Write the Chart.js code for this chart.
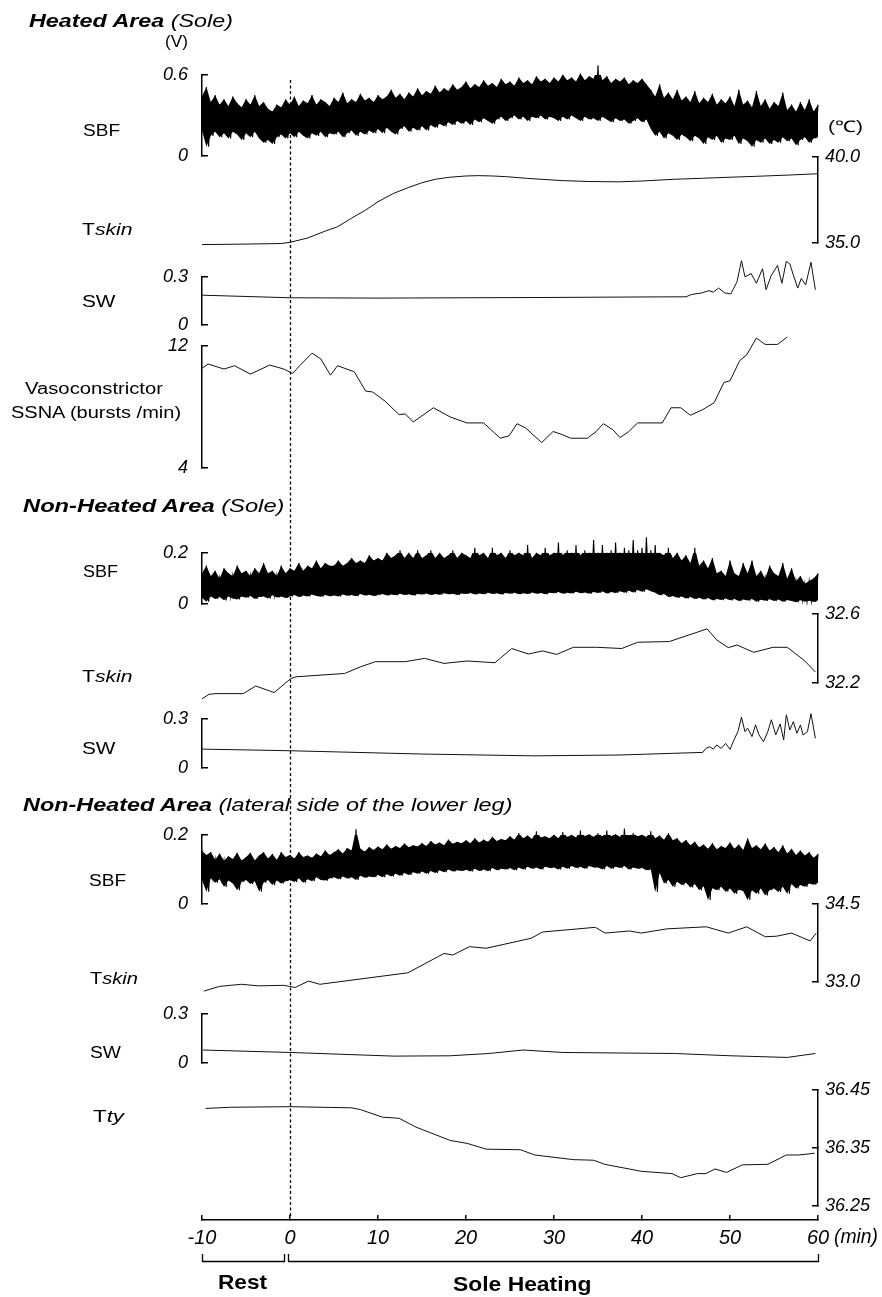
<!DOCTYPE html>
<html>
<head>
<meta charset="utf-8">
<script src="https://cdn.jsdelivr.net/npm/chart.js@4.4.1/dist/chart.umd.min.js"></script>
<style>
html,body{margin:0;padding:0;background:#fff;}
#page{position:relative;width:882px;height:1297px;overflow:hidden;font-family:"Liberation Sans",Arial,sans-serif;color:#000;background:#fff;}
#page canvas{position:absolute;left:0;}
.lbl{position:absolute;white-space:nowrap;line-height:1;transform-origin:0 50%;}
</style>
</head>
<body>
<div id="page"></div>
<script>
// ---------------- DATA ----------------
// time axis (min)
const xTickLabels = ['-10','0','10','20','30','40','50','60'];
const heatStart = 0;
// SBF traces sampled every 0.5 min from -10 to 60 (141 samples): upper / lower envelope
const sbfTimes = Array.from({length: 141}, (_, i) => -10 + i * 0.5);

const sbfHeatedUpper = [
0.44,0.51,0.40,0.45,0.38,0.42,0.37,0.44,0.39,0.36,
0.42,0.38,0.45,0.37,0.40,0.35,0.33,0.38,0.36,0.42,
0.38,0.44,0.37,0.41,0.39,0.45,0.38,0.42,0.40,0.37,
0.43,0.40,0.47,0.39,0.42,0.40,0.46,0.41,0.43,0.40,
0.45,0.42,0.44,0.49,0.43,0.46,0.42,0.47,0.44,0.50,
0.45,0.48,0.46,0.52,0.47,0.50,0.48,0.53,0.49,0.51,
0.55,0.50,0.53,0.51,0.56,0.52,0.54,0.51,0.57,0.53,
0.55,0.52,0.58,0.54,0.56,0.53,0.59,0.55,0.57,0.54,
0.58,0.55,0.60,0.56,0.58,0.55,0.61,0.56,0.59,0.57,
0.67,0.56,0.59,0.54,0.57,0.55,0.58,0.53,0.56,0.54,
0.57,0.53,0.49,0.44,0.53,0.43,0.47,0.42,0.49,0.41,
0.44,0.40,0.48,0.39,0.43,0.40,0.46,0.38,0.42,0.39,
0.44,0.37,0.49,0.38,0.41,0.36,0.48,0.37,0.42,0.35,
0.40,0.37,0.47,0.34,0.38,0.33,0.40,0.34,0.42,0.33,
0.38];
const sbfHeatedLower = [
0.19,0.07,0.15,0.18,0.14,0.17,0.13,0.18,0.16,0.12,
0.17,0.14,0.18,0.13,0.10,0.12,0.09,0.14,0.16,0.13,
0.17,0.14,0.18,0.15,0.13,0.17,0.15,0.18,0.14,0.17,
0.16,0.18,0.14,0.17,0.19,0.15,0.18,0.16,0.19,0.17,
0.20,0.17,0.21,0.18,0.16,0.20,0.22,0.18,0.21,0.19,
0.22,0.19,0.23,0.21,0.24,0.22,0.25,0.23,0.26,0.24,
0.26,0.23,0.27,0.25,0.28,0.26,0.24,0.27,0.29,0.26,
0.28,0.30,0.27,0.29,0.26,0.29,0.28,0.30,0.27,0.29,
0.28,0.26,0.29,0.27,0.30,0.28,0.26,0.29,0.27,0.28,
0.26,0.29,0.27,0.25,0.28,0.26,0.27,0.24,0.26,0.28,
0.25,0.27,0.20,0.15,0.18,0.13,0.17,0.15,0.12,0.16,
0.14,0.11,0.15,0.13,0.09,0.14,0.12,0.15,0.10,0.13,
0.12,0.15,0.09,0.13,0.11,0.07,0.12,0.10,0.13,0.09,
0.12,0.10,0.14,0.11,0.13,0.08,0.12,0.14,0.10,0.13,
0.14];

const sbfSoleUpper = [
0.12,0.15,0.11,0.13,0.10,0.14,0.12,0.11,0.15,0.12,
0.13,0.11,0.14,0.12,0.16,0.12,0.13,0.11,0.15,0.12,
0.14,0.13,0.16,0.13,0.15,0.14,0.17,0.14,0.16,0.15,
0.15,0.17,0.15,0.16,0.18,0.16,0.17,0.16,0.19,0.17,
0.18,0.17,0.20,0.18,0.19,0.21,0.18,0.20,0.18,0.21,
0.18,0.19,0.21,0.18,0.20,0.18,0.19,0.21,0.18,0.20,
0.19,0.18,0.22,0.19,0.20,0.18,0.22,0.19,0.20,0.18,
0.21,0.19,0.20,0.19,0.23,0.18,0.20,0.19,0.22,0.19,
0.20,0.24,0.19,0.21,0.20,0.23,0.19,0.21,0.20,0.25,
0.20,0.23,0.20,0.21,0.24,0.20,0.22,0.21,0.25,0.21,
0.22,0.26,0.21,0.23,0.20,0.19,0.22,0.18,0.20,0.17,
0.19,0.16,0.22,0.15,0.17,0.14,0.18,0.12,0.13,0.11,
0.17,0.12,0.11,0.16,0.12,0.17,0.11,0.13,0.10,0.15,
0.12,0.11,0.16,0.10,0.14,0.09,0.11,0.08,0.09,0.10,
0.12];
const sbfSoleLower = [
0.025,0.010,0.030,0.020,0.028,0.015,0.030,0.022,0.018,0.030,
0.025,0.032,0.020,0.028,0.030,0.022,0.035,0.026,0.030,0.024,
0.030,0.036,0.028,0.034,0.030,0.038,0.032,0.029,0.036,0.031,
0.034,0.030,0.038,0.033,0.036,0.031,0.040,0.034,0.037,0.032,
0.036,0.040,0.034,0.038,0.035,0.041,0.036,0.039,0.034,0.040,
0.038,0.042,0.036,0.040,0.037,0.043,0.039,0.041,0.036,0.042,
0.040,0.044,0.038,0.042,0.039,0.045,0.040,0.043,0.038,0.044,
0.041,0.045,0.039,0.043,0.040,0.046,0.041,0.044,0.039,0.045,
0.043,0.047,0.041,0.045,0.042,0.048,0.043,0.046,0.041,0.047,
0.044,0.049,0.042,0.047,0.044,0.050,0.045,0.052,0.046,0.055,
0.048,0.058,0.050,0.045,0.035,0.040,0.028,0.032,0.025,0.030,
0.022,0.028,0.020,0.025,0.018,0.024,0.015,0.020,0.016,0.022,
0.015,0.020,0.012,0.018,0.014,0.020,0.010,0.017,0.013,0.019,
0.012,0.018,0.010,0.016,0.012,0.008,0.015,0.010,0.013,0.009,
0.015];

const sbfLegUpper = [
0.154,0.142,0.150,0.128,0.146,0.125,0.138,0.130,0.148,0.126,
0.135,0.148,0.127,0.140,0.150,0.132,0.145,0.128,0.150,0.136,
0.142,0.132,0.150,0.136,0.140,0.134,0.146,0.138,0.155,0.142,
0.150,0.158,0.146,0.162,0.155,0.216,0.160,0.152,0.165,0.156,
0.166,0.158,0.172,0.160,0.168,0.162,0.175,0.164,0.170,0.166,
0.176,0.168,0.182,0.172,0.178,0.170,0.186,0.174,0.180,0.176,
0.184,0.176,0.190,0.178,0.186,0.180,0.194,0.182,0.188,0.184,
0.196,0.186,0.205,0.190,0.198,0.188,0.210,0.192,0.196,0.190,
0.200,0.190,0.208,0.194,0.200,0.192,0.212,0.196,0.202,0.194,
0.205,0.195,0.212,0.196,0.202,0.194,0.218,0.198,0.205,0.196,
0.200,0.194,0.210,0.190,0.198,0.186,0.205,0.184,0.190,0.176,
0.185,0.170,0.180,0.164,0.172,0.160,0.176,0.158,0.168,0.162,
0.178,0.160,0.172,0.156,0.190,0.162,0.170,0.158,0.175,0.155,
0.165,0.150,0.170,0.146,0.160,0.142,0.155,0.140,0.150,0.134,
0.145];
const sbfLegLower = [
0.070,0.036,0.075,0.062,0.072,0.050,0.068,0.060,0.040,0.064,
0.070,0.058,0.066,0.036,0.062,0.070,0.055,0.068,0.060,0.066,
0.070,0.064,0.075,0.062,0.072,0.066,0.078,0.070,0.068,0.074,
0.078,0.072,0.080,0.074,0.078,0.070,0.082,0.076,0.080,0.078,
0.084,0.078,0.086,0.080,0.088,0.082,0.090,0.084,0.092,0.088,
0.094,0.088,0.096,0.090,0.098,0.092,0.100,0.094,0.098,0.096,
0.099,0.094,0.102,0.096,0.100,0.095,0.104,0.098,0.102,0.100,
0.104,0.098,0.106,0.100,0.108,0.102,0.106,0.100,0.108,0.104,
0.106,0.100,0.108,0.102,0.110,0.104,0.108,0.102,0.110,0.106,
0.106,0.100,0.110,0.102,0.108,0.104,0.110,0.100,0.106,0.102,
0.104,0.098,0.100,0.035,0.090,0.060,0.070,0.050,0.065,0.055,
0.062,0.048,0.058,0.040,0.052,0.012,0.046,0.040,0.050,0.036,
0.045,0.030,0.042,0.038,0.012,0.040,0.030,0.045,0.025,0.040,
0.045,0.035,0.050,0.030,0.058,0.045,0.055,0.050,0.060,0.056,
0.062];

// Heated area (sole)
const tskinHeatedT = [-10,-5,-1,0,2,4,5.4,7,8.6,10,11.8,13.5,15,16.5,18.2,20,21.4,23,24.6,27,31,34,37.4,40,43.7,47,50.1,53,56.5,60];
const tskinHeatedV = [34.92,34.95,34.98,35.05,35.3,35.7,35.95,36.45,36.92,37.4,37.89,38.23,38.5,38.7,38.82,38.89,38.91,38.89,38.85,38.75,38.62,38.57,38.55,38.6,38.7,38.76,38.82,38.87,38.94,39.02];

const swHeatedT = [-10,-5,0,10,20,30,40,45,45.6,46.8,47.6,48.1,48.7,49.4,50.1,50.8,51.3,51.7,52.4,53.0,53.7,54.1,54.7,55.4,55.9,56.4,56.8,57.2,57.7,58.1,58.6,59.2,59.7];
const swHeatedV = [0.186,0.178,0.170,0.168,0.170,0.172,0.175,0.176,0.19,0.20,0.214,0.205,0.23,0.20,0.194,0.27,0.40,0.30,0.32,0.26,0.35,0.22,0.31,0.37,0.26,0.396,0.38,0.31,0.23,0.29,0.25,0.39,0.22];

const ssnaT = [-10,-9.3,-7.5,-6.3,-4.5,-2.3,-0.7,0.3,1.1,2.5,3.5,4.6,5.4,7.3,8.6,9.4,10.8,12.4,13.1,14.0,16.3,18.2,20.1,22.0,23.9,24.9,25.8,26.8,28.6,29.9,31.0,31.9,33.8,34.8,35.6,36.7,37.5,38.5,39.5,42.3,43.3,44.4,45.5,46.9,48.2,49.3,50.0,51.1,51.9,53.0,54.0,55.4,56.5];
const ssnaV = [10.53,10.81,10.48,10.70,10.15,10.74,10.48,10.19,10.70,11.52,11.14,10.08,10.70,10.30,9.04,8.98,8.38,7.50,7.55,7.02,7.95,7.35,6.96,6.96,5.96,6.12,6.91,6.62,5.67,6.40,6.18,5.96,5.96,6.40,6.91,6.51,6.00,6.40,6.96,6.96,7.95,7.95,7.46,7.83,8.28,9.60,9.71,11.03,11.41,12.51,12.09,12.09,12.57];

// Non-heated area (sole)
const tskinSoleT = [-10,-9.2,-8.4,-5.3,-3.9,-1.8,0.1,0.7,6.2,8.0,9.7,13.1,15.3,17.5,20.1,23.3,25.2,27.1,28.7,30.3,32.2,34.8,37.7,39.5,43.1,47.4,48.5,49.8,50.8,52.7,54.9,56.5,58.4,59.7];
const tskinSoleV = [32.11,32.136,32.14,32.14,32.184,32.146,32.227,32.237,32.256,32.294,32.324,32.324,32.343,32.314,32.328,32.318,32.40,32.368,32.386,32.366,32.407,32.407,32.40,32.436,32.44,32.513,32.449,32.405,32.42,32.378,32.407,32.407,32.333,32.265];

const swSoleT = [-10,0,15,27.7,37.4,46.9,47.25,47.7,48.1,48.5,49.0,49.5,50.0,50.45,50.9,51.3,51.7,52.0,52.5,52.9,53.3,53.8,54.3,54.7,55.2,55.7,56.1,56.4,56.8,57.2,57.6,58.0,58.3,58.8,59.2,59.7];
const swSoleV = [0.116,0.106,0.086,0.075,0.08,0.096,0.12,0.13,0.116,0.141,0.12,0.151,0.114,0.171,0.222,0.31,0.222,0.243,0.192,0.263,0.202,0.161,0.222,0.294,0.202,0.269,0.171,0.324,0.232,0.283,0.212,0.263,0.202,0.222,0.331,0.182];

// Non-heated area (lateral side of the lower leg)
const tskinLegT = [-9.8,-8.0,-5.5,-3.6,-0.7,0.6,2.1,3.4,13.4,17.5,18.5,20.4,22.3,27.4,28.7,34.7,35.8,38.6,39.9,42.8,47.3,49.8,51.9,54.0,55.3,57.0,59.1,59.8];
const tskinLegV = [32.83,32.92,32.96,32.93,32.94,32.90,33.02,32.96,33.18,33.55,33.52,33.68,33.65,33.84,33.96,34.05,33.94,33.98,33.94,34.02,34.06,33.94,34.06,33.87,33.88,33.94,33.79,33.94];

const swLegT = [-9.9,0.1,11.8,18.2,22.6,26.5,31,43.7,50.1,56.5,59.7];
const swLegV = [0.080,0.065,0.043,0.045,0.059,0.080,0.065,0.059,0.045,0.035,0.059];

const ttyT = [-9.6,-6.75,0.1,7.0,8.0,10.5,12.4,14.3,18.2,20.1,22.3,26.2,27.8,32.2,34.5,35.75,39.9,43.4,44.4,46.3,47.25,48.3,49.6,51.4,54.3,56.4,57.8,59.6];
const ttyV = [36.418,36.420,36.421,36.419,36.416,36.403,36.401,36.386,36.363,36.358,36.348,36.347,36.338,36.330,36.329,36.322,36.310,36.306,36.299,36.306,36.306,36.314,36.308,36.321,36.322,36.338,36.338,36.341];

// axis tick labels
const ticksSBFHeated = ['0','0.6'];
const ticksTskinHeated = ['35.0','40.0'];
const ticksSW = ['0','0.3'];
const ticksSSNA = ['4','12'];
const ticksSBFSole = ['0','0.2'];
const ticksTskinSole = ['32.2','32.6'];
const ticksTskinLeg = ['33.0','34.5'];
const ticksTty = ['36.25','36.35','36.45'];

// ---------------- RENDERING ----------------
const FONT = '"Liberation Sans", Arial, sans-serif';
const W = 882, H = 1297, PLOT_LEFT = 202, RIGHT_GAP = 64;
const page = document.getElementById('page');

function pts(t, v) { return t.map((x, i) => ({x: x, y: v[i]})); }
function lineDs(t, v) {
  return {data: pts(t, v), borderColor: '#111', borderWidth: 1, pointRadius: 0, fill: false, clip: false, tension: 0};
}
// noisy flow trace: solid core between the envelopes + a zig-zag trace that alternates upper/lower samples
function bandDs(upper, lower) {
  const zig = [];
  sbfTimes.forEach((t, i) => { zig.push({x: t, y: upper[i]}); zig.push({x: t + 0.25, y: lower[i]}); });
  return [
    {data: pts(sbfTimes, upper), borderWidth: 0, borderColor: 'rgba(0,0,0,0)', backgroundColor: '#000', pointRadius: 0, fill: '+1', clip: false, tension: 0},
    {data: pts(sbfTimes, lower), borderWidth: 0, borderColor: 'rgba(0,0,0,0)', pointRadius: 0, fill: false, clip: false, tension: 0},
    {data: zig, borderColor: '#000', borderWidth: 1.1, pointRadius: 0, fill: false, clip: false, tension: 0}
  ];
}

function panelConfig(cfg) {
  const left = cfg.side === 'left';
  return {
    type: 'line',
    data: {datasets: cfg.datasets},
    options: {
      responsive: false, maintainAspectRatio: false, animation: false, devicePixelRatio: 1, events: [],
      layout: {padding: {top: 0, bottom: 0, left: left ? 0 : PLOT_LEFT, right: left ? RIGHT_GAP : 0}},
      plugins: {legend: {display: false}, tooltip: {enabled: false}},
      scales: {
        x: {type: 'linear', min: parseFloat(xTickLabels[0]), max: parseFloat(xTickLabels[xTickLabels.length - 1]), display: false},
        y: {
          type: 'linear', position: cfg.side,
          min: parseFloat(cfg.ticks[0]), max: parseFloat(cfg.ticks[cfg.ticks.length - 1]),
          afterFit: s => { s.width = left ? PLOT_LEFT : RIGHT_GAP; },
          afterBuildTicks: s => { s.ticks = cfg.ticks.map(l => ({value: parseFloat(l)})); },
          ticks: {
            callback: (v, i) => cfg.ticks[i],
            font: {family: FONT, size: 18, style: 'italic'}, color: '#000',
            padding: left ? 20 : 13, autoSkip: false, maxRotation: 0
          },
          grid: {drawOnChartArea: false, drawTicks: true, tickLength: -6, color: '#000', lineWidth: 1.5},
          border: {display: true, color: '#000', width: 1.5}
        }
      }
    }
  };
}

function makePanel(cfg) {
  const c = document.createElement('canvas');
  const probeH = cfg.bottom - cfg.top + 80;
  c.width = W; c.height = probeH;
  c.style.width = W + 'px'; c.style.height = probeH + 'px';
  page.appendChild(c);
  // probe once to learn how much room the tick labels take above / below the plot area
  const probe = new Chart(c, panelConfig(cfg));
  const insetTop = probe.chartArea.top;
  const insetBottom = probeH - probe.chartArea.bottom;
  probe.destroy();
  const h = Math.round(cfg.bottom - cfg.top + insetTop + insetBottom);
  c.width = W; c.height = h;
  c.style.width = W + 'px'; c.style.height = h + 'px';
  c.style.top = (cfg.top - insetTop) + 'px';
  new Chart(c, panelConfig(cfg));
}

// frame chart: time axis, heating onset line, rest / heating brackets
const framePlugin = {
  id: 'frame',
  afterDraw(chart) {
    const ctx = chart.ctx, xs = chart.scales.x, ca = chart.chartArea;
    const x0 = Math.round(xs.getPixelForValue(heatStart)) + 0.5;
    ctx.save();
    ctx.strokeStyle = '#000';
    ctx.lineWidth = 1.3;
    ctx.setLineDash([3, 2.5]);
    ctx.beginPath(); ctx.moveTo(x0, ca.top); ctx.lineTo(x0, ca.bottom - 4); ctx.stroke();
    ctx.setLineDash([]);
    ctx.lineWidth = 1.3;
    const yTop = 1254, yLine = 1261.5;
    [[-10, -0.7], [-0.25, 60]].forEach(([a, b]) => {
      const xa = Math.round(xs.getPixelForValue(a)) + 0.5, xb = Math.round(xs.getPixelForValue(b)) + 0.5;
      ctx.beginPath(); ctx.moveTo(xa, yTop); ctx.lineTo(xa, yLine); ctx.lineTo(xb, yLine); ctx.lineTo(xb, yTop); ctx.stroke();
    });
    ctx.restore();
  }
};
(function makeFrame() {
  const c = document.createElement('canvas');
  c.width = W; c.height = H; c.style.width = W + 'px'; c.style.height = H + 'px'; c.style.top = '0px';
  page.appendChild(c);
  new Chart(c, {
    type: 'line',
    data: {datasets: []},
    options: {
      responsive: false, maintainAspectRatio: false, animation: false, devicePixelRatio: 1, events: [],
      layout: {padding: {top: 80, left: PLOT_LEFT, right: RIGHT_GAP, bottom: 0}},
      plugins: {legend: {display: false}, tooltip: {enabled: false}},
      scales: {
        x: {
          type: 'linear', position: 'bottom',
          min: parseFloat(xTickLabels[0]), max: parseFloat(xTickLabels[xTickLabels.length - 1]),
          afterFit: s => { s.height = 77; },
          afterBuildTicks: s => { s.ticks = xTickLabels.map(l => ({value: parseFloat(l)})); },
          ticks: {callback: (v, i) => xTickLabels[i], font: {family: FONT, size: 20, style: 'italic'}, color: '#000', padding: 11, autoSkip: false, maxRotation: 0},
          grid: {drawOnChartArea: false, drawTicks: true, tickLength: -5, color: '#000', lineWidth: 1.5},
          border: {display: true, color: '#000', width: 1.5}
        },
        y: {display: false, min: 0, max: 1}
      }
    },
    plugins: [framePlugin]
  });
})();

// panels
makePanel({side: 'left', top: 75, bottom: 156, ticks: ticksSBFHeated, datasets: bandDs(sbfHeatedUpper, sbfHeatedLower)});
makePanel({side: 'right', top: 157, bottom: 243, ticks: ticksTskinHeated, datasets: [lineDs(tskinHeatedT, tskinHeatedV)]});
makePanel({side: 'left', top: 277, bottom: 325, ticks: ticksSW, datasets: [lineDs(swHeatedT, swHeatedV)]});
makePanel({side: 'left', top: 346, bottom: 468, ticks: ticksSSNA, datasets: [lineDs(ssnaT, ssnaV)]});
makePanel({side: 'left', top: 553, bottom: 604, ticks: ticksSBFSole, datasets: bandDs(sbfSoleUpper, sbfSoleLower)});
makePanel({side: 'right', top: 614, bottom: 683, ticks: ticksTskinSole, datasets: [lineDs(tskinSoleT, tskinSoleV)]});
makePanel({side: 'left', top: 719, bottom: 768, ticks: ticksSW, datasets: [lineDs(swSoleT, swSoleV)]});
makePanel({side: 'left', top: 835, bottom: 904, ticks: ticksSBFSole, datasets: bandDs(sbfLegUpper, sbfLegLower)});
makePanel({side: 'right', top: 904, bottom: 982, ticks: ticksTskinLeg, datasets: [lineDs(tskinLegT, tskinLegV)]});
makePanel({side: 'left', top: 1014, bottom: 1063, ticks: ticksSW, datasets: [lineDs(swLegT, swLegV)]});
makePanel({side: 'right', top: 1090, bottom: 1206, ticks: ticksTty, datasets: [lineDs(ttyT, ttyV)]});

// text labels (x = left edge, cy = vertical centre of capitals, w = target width)
const LABELS = [
  {html: '<b><i>Heated Area</i></b><i> (Sole)</i>', x: 29, cy: 21, w: 204, fs: 18},
  {html: '(V)', x: 165, cy: 41.5, w: 23, fs: 16},
  {html: 'SBF', x: 83, cy: 131, w: 37, fs: 16},
  {html: '(\u2103)', x: 828, cy: 127, w: 35, fs: 16},
  {html: 'T<i>skin</i>', x: 81.5, cy: 230, w: 50.5, fs: 16},
  {html: 'SW', x: 81.5, cy: 301.7, w: 33.5, fs: 16},
  {html: 'Vasoconstrictor', x: 25, cy: 389, w: 138, fs: 16},
  {html: 'SSNA (bursts /min)', x: 11, cy: 413, w: 170, fs: 16},
  {html: '<b><i>Non-Heated Area</i></b><i> (Sole)</i>', x: 22.5, cy: 506, w: 261.5, fs: 18},
  {html: 'SBF', x: 83, cy: 572, w: 35, fs: 16},
  {html: 'T<i>skin</i>', x: 81.5, cy: 676.7, w: 50.5, fs: 16},
  {html: 'SW', x: 81.5, cy: 748.5, w: 33.5, fs: 16},
  {html: '<b><i>Non-Heated Area</i></b><i> (lateral side of the lower leg)</i>', x: 22.5, cy: 805, w: 489.5, fs: 18},
  {html: 'SBF', x: 89, cy: 881, w: 37, fs: 16},
  {html: 'T<i>skin</i>', x: 90, cy: 978.5, w: 48, fs: 16},
  {html: 'SW', x: 90, cy: 1053, w: 31, fs: 16},
  {html: 'T<i>ty</i>', x: 93, cy: 1117, w: 31, fs: 16},
  {html: '<i>(min)</i>', x: 834, cy: 1236, w: 44, fs: 20},
  {html: '<b>Rest</b>', x: 218, cy: 1281.5, w: 49, fs: 21},
  {html: '<b>Sole Heating</b>', x: 452.5, cy: 1284, w: 138.5, fs: 20}
];
LABELS.forEach(L => {
  const d = document.createElement('div');
  d.className = 'lbl';
  d.innerHTML = L.html;
  d.style.fontSize = L.fs + 'px';
  d.style.left = L.x + 'px';
  d.style.top = (L.cy - 0.49 * L.fs) + 'px';
  page.appendChild(d);
  const nat = d.getBoundingClientRect().width;
  if (nat > 0) d.style.transform = 'scaleX(' + (L.w / nat).toFixed(3) + ')';
});
</script>
</body>
</html>
